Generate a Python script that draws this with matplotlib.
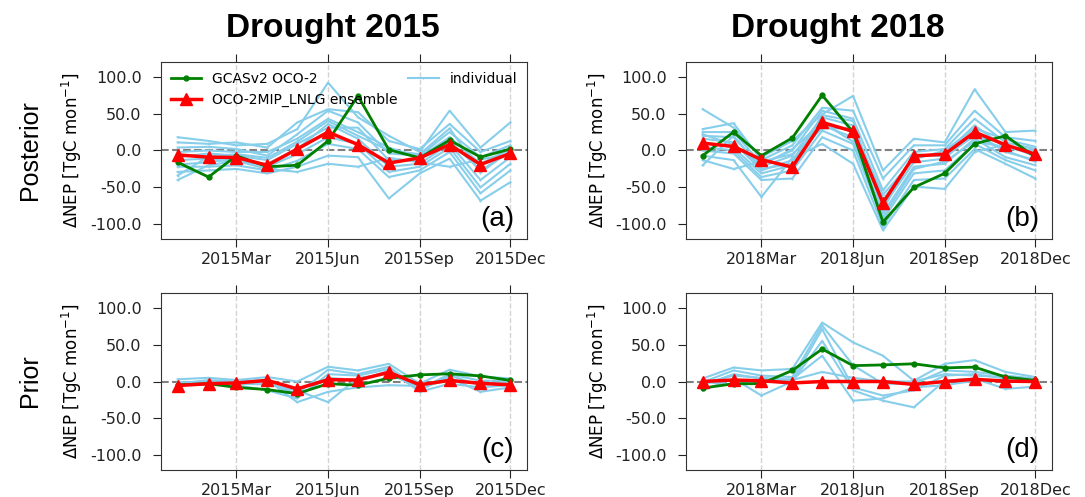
import numpy as np
import pandas as pd
import matplotlib
matplotlib.use('Agg')
import matplotlib.pyplot as plt
import matplotlib.dates as mdates

###############################################################################
# data (TgC mon-1), one value per month Jan..Dec
###############################################################################

months_2015 = pd.date_range('2015-01-01', periods=12, freq='MS')
months_2018 = pd.date_range('2018-01-01', periods=12, freq='MS')

# (a) posterior 2015
gcas_a = [-16, -36, -7, -22, -20, 13, 74, 1, -10, 14, -9, 2]
ens_a = [-6, -9, -9.5, -20, 2, 25, 8, -17, -10, 8, -19, -4]
ind_a = [
    [18, 13, 7, 9, 29, 92, 45, 20, -2, 54, 4, 38],
    [11, 9, 11, 4, 38, 56, 52, 13, 2, 36, -2, 13],
    [4, 5, 2, -7, 22, 54, 38, -4, -7, 25, -9, 7],
    [-2, 0, -2, -2, 16, 43, 25, 4, -9, 18, -18, 2],
    [-9, -4, -7, -13, 9, 31, 31, -13, -13, 13, -27, -2],
    [-13, -11, -16, -18, 2, 36, 16, -22, -18, 9, -40, -9],
    [-19, -16, -11, -22, -5, 18, 9, -29, -22, 4, -50, -18],
    [-22, -22, -20, -27, -14, 9, 2, -36, -27, -2, -58, -27],
    [-29, -27, -25, -31, -22, -7, -9, -65, -31, -11, -68, -43],
    [-40, -20, -14, -25, -29, -18, -22, -10, -16, -22, -12, -5],
    [-34, -8, -5, -10, 12, 40, 20, 0, -5, 30, -30, 0],
]

# (b) posterior 2018
gcas_b = [-7, 25, -7, 17, 75, 25, -97, -50, -31, 9, 20, -9]
ens_b = [10, 5.5, -12.5, -22.5, 38, 26, -71, -7.5, -5, 25, 7.5, -5]
ind_b = [
    [56, 31, -9, 13, 49, 74, -27, 16, 11, 83, 25, 27],
    [29, 37, -13, 7, 58, 54, -38, 7, 7, 54, 18, 13],
    [25, 25, -18, 0, 54, 43, -54, -2, 2, 43, 11, 2],
    [20, 18, -22, -7, 45, 34, -67, -9, -4, 34, 4, -4],
    [16, 11, -27, -13, 40, 25, -76, -16, -11, 25, -2, -13],
    [11, 4, -31, -20, 34, 18, -85, -22, -18, 16, -9, -20],
    [5, 0, -36, -27, 27, 9, -94, -31, -27, 9, -13, -27],
    [0, -4, -40, -38, 18, 0, -103, -40, -38, 2, -18, -38],
    [-7, -13, -63, -10, 9, -18, -108, -49, -52, -2, 8, -8],
    [-13, -25, -15, -5, 30, 30, -60, -12, 0, 30, 15, 5],
    [-20, 20, -25, -18, 48, 40, -80, -5, -8, 20, 0, -15],
    [22, 8, -20, 2, 38, 12, -90, -25, -15, 12, 5, 0],
]

# (c) prior 2015
gcas_c = [-4.5, -3, -8, -11, -16.5, -3, -5, 4.5, 9, 10.5, 7.5, 1.5]
ens_c = [-5.5, -3, -2, 1.5, -10, 2.5, 2, 12.5, -4.5, 1.5, -2.5, -4.5]
ind_c = [
    [3, 5, 2, 6, 0, 20, 15, 24, -3, 16, 7, 4],
    [-1, -1, -2, -1, -17, 16, 10, 20, -10, 10, 1, 1],
    [-5, -3, -5, -12, -23, 10, 8, 17, -14, -3, -8, -5],
    [-3, 2, 0, 2, -28, -14, -8, -5, -6, 5, -14, -8],
    [-2, 0, -3, -4, -12, -28, 5, 10, -8, 2, -3, -2],
    [-4, -2, -1, 0, -20, 5, 2, 14, -12, 8, -5, 0],
]

# (d) prior 2018
gcas_d = [-9, -3, -3, 15, 44, 21.5, 22.5, 24, 18.5, 19.5, 6, 1.5]
ens_d = [0, 2, 1, -2, 0, 0, 0, -4, 0, 3, 0.5, 0]
ind_d = [
    [4, 19, 15, 17, 80, 53, 35, 1, 24, 29, 13, 6],
    [-1, 15, 8, 6, 76, 22, -3, -3, 15, 13, 8, 4],
    [-5, 10, 4, 1, 71, -8, -19, -12, 8, 10, 4, 1],
    [-12, 4, -19, 0, 55, -12, -26, -35, 1, 4, -10, -7],
    [0, -5, 2, 3, 35, -26, -23, -8, -5, 1, 2, 2],
    [-3, 8, 5, 2, 13, 5, 0, 0, 10, 8, 6, 3],
]

###############################################################################

W, H = 1085, 497
fig = plt.figure(figsize=(W / 100, H / 100), dpi=100)

ax_w = 366 / W
ax_h = 177 / H
lefts = [161 / W, 686 / W]
bottoms = [1 - 239 / H, 1 - 470 / H]

panels = [
    (0, 0, months_2015, gcas_a, ens_a, ind_a, '(a)'),
    (1, 0, months_2018, gcas_b, ens_b, ind_b, '(b)'),
    (0, 1, months_2015, gcas_c, ens_c, ind_c, '(c)'),
    (1, 1, months_2018, gcas_d, ens_d, ind_d, '(d)'),
]

for col, row, months, gcas, ens, ind, tag in panels:
    ax = fig.add_axes([lefts[col], bottoms[row], ax_w, ax_h])

    ax.plot(months, gcas, color='green', lw=2, marker='.', ms=7,
            label='GCASv2 OCO-2', zorder=3)
    ax.plot(months, ens, color='red', lw=2.5, marker='^', ms=8.5,
            label='OCO-2MIP_LNLG ensemble', zorder=4)
    for k, m in enumerate(ind):
        ax.plot(months, m, color='skyblue', lw=1.5, marker='.', ms=1,
                label='individual' if k == 0 else None, zorder=2)

    ax.axhline(0, color='gray', ls='--', lw=1.5, zorder=1)
    ax.set_ylim(-120, 120)
    ax.set_yticks([-100, -50, 0, 50, 100])
    ax.yaxis.set_major_formatter(plt.FormatStrFormatter('%.1f'))
    ax.xaxis.set_major_locator(mdates.MonthLocator(bymonth=[3, 6, 9, 12]))
    ax.xaxis.set_major_formatter(mdates.DateFormatter('%Y%b'))
    ax.grid(axis='x', color='lightgray', ls='--', lw=1)
    ax.tick_params(axis='both', labelsize=11.5, direction='out', length=6,
                   colors='#222222')
    ax.tick_params(axis='y', pad=8)
    ax.tick_params(axis='x', top=True)
    for sp in ax.spines.values():
        sp.set_color('#333333')
    ax.set_ylabel(r'$\Delta$NEP [TgC mon$^{-1}$]', fontsize=12, labelpad=4)
    ax.text(0.965, 0.04, tag, transform=ax.transAxes, ha='right',
            va='bottom', fontsize=20, family='Liberation Sans')

    if tag == '(a)':
        ax.legend(loc='upper left', ncol=2, mode='expand', frameon=False,
                  bbox_to_anchor=(0.0, 0.0, 1.0, 1.0), fontsize=10,
                  numpoints=1, handlelength=2.2, borderaxespad=0.3)

fig.text(333 / W, 1 - 29 / H, 'Drought 2015', ha='center', va='center',
         fontsize=24, fontweight='bold',
         family=['Liberation Sans Narrow', 'Liberation Sans'])
fig.text(838 / W, 1 - 29 / H, 'Drought 2018', ha='center', va='center',
         fontsize=24, fontweight='bold',
         family=['Liberation Sans Narrow', 'Liberation Sans'])
fig.text(30 / W, 1 - 150 / H, 'Posterior', rotation=90, ha='center',
         va='center', fontsize=18, family='Liberation Sans')
fig.text(30 / W, 1 - 381 / H, 'Prior', rotation=90, ha='center',
         va='center', fontsize=18, family='Liberation Sans')

fig.savefig('out.png', dpi=100)
